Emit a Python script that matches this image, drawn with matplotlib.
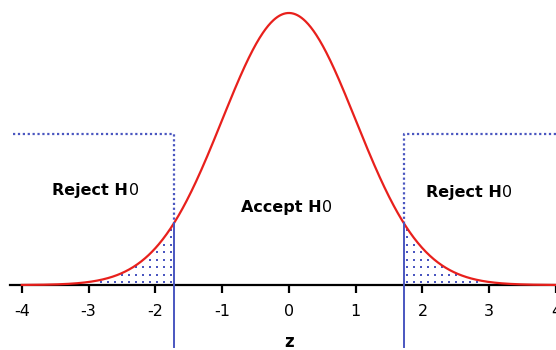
import numpy as np
import matplotlib
matplotlib.use("Agg")
import matplotlib.pyplot as plt

plt.rcParams['axes.unicode_minus'] = False

# data
z_crit = 1.72
tick_vals = [-4, -3, -2, -1, 0, 1, 2, 3, 4]
tick_labels = ["-4", "-3", "-2", "-1", "0", "1", "2", "3", "4"]
region_labels = ["Reject H", "Accept H", "Reject H"]
region_x = [-2.86, 0.0, 2.74]
region_y = [0.138, 0.114, 0.135]
box_top = 0.2215

blue = "#4a56c0"
red = "#e8201c"

z = np.linspace(-4, 4, 801)
pdf = np.exp(-z**2 / 2) / np.sqrt(2 * np.pi)

def npdf(x):
    return np.exp(-x**2 / 2) / np.sqrt(2 * np.pi)

fig = plt.figure(figsize=(5.56, 3.5), dpi=100)
ax = fig.add_axes([0, 0, 1, 1])
ax.set_xlim(-4.326, 3.997)
ax.set_ylim(-0.0953, 0.418)

# axis
for s in ['left', 'right', 'top']:
    ax.spines[s].set_visible(False)
ax.spines['bottom'].set_position(('data', 0))
ax.spines['bottom'].set_bounds(-4.17, 4.0)
ax.spines['bottom'].set_linewidth(1.6)
ax.set_yticks([])
ax.set_xticks(tick_vals)
ax.set_xticklabels(tick_labels, fontsize=11.5)
ax.tick_params(axis='x', direction='out', length=6, width=1.6, pad=8, colors='black')
ax.set_xlabel("z", fontsize=12, fontweight='bold', labelpad=10)
ax.xaxis.label.set_x(289 / 556)
ax.patch.set_alpha(0)

# dotted fill in tails
dx = 0.105
dy = 0.011
ys = np.arange(0.004, 0.1, dy)
for side in (-1, 1):
    xs = side * (z_crit + 0.045 + dx * np.arange(0, 30))
    gx, gy = np.meshgrid(xs, ys)
    m = gy < npdf(gx) - 0.002
    ax.scatter(gx[m], gy[m], s=2.4, color=blue, marker='s', linewidths=0, zorder=2)

# curve
ax.plot(z, pdf, color=red, lw=1.6, zorder=3)

# rejection boxes (dotted)
yc = npdf(z_crit)
ax.plot([-4.13, -z_crit, -z_crit], [box_top, box_top, yc], color=blue, ls=(0, (1, 1.2)), lw=1.6, zorder=2)
ax.plot([4.0, z_crit, z_crit], [box_top, box_top, yc], color=blue, ls=(0, (1, 1.2)), lw=1.6, zorder=2)

# critical lines
for xc in (-z_crit, z_crit):
    ax.plot([xc, xc], [yc, -0.091], color=blue, lw=1.4, zorder=4, clip_on=False)

# labels
for lab, x, y in zip(region_labels, region_x, region_y):
    t = ax.text(x - 0.12, y, lab, fontsize=11.5, fontweight='bold', ha='center', va='center')
    ax.annotate("0", xy=(1, 0), xycoords=t, xytext=(0.5, 0), textcoords='offset points',
                fontsize=11.5, va='bottom', ha='left')

fig.savefig("out.png", dpi=100)
